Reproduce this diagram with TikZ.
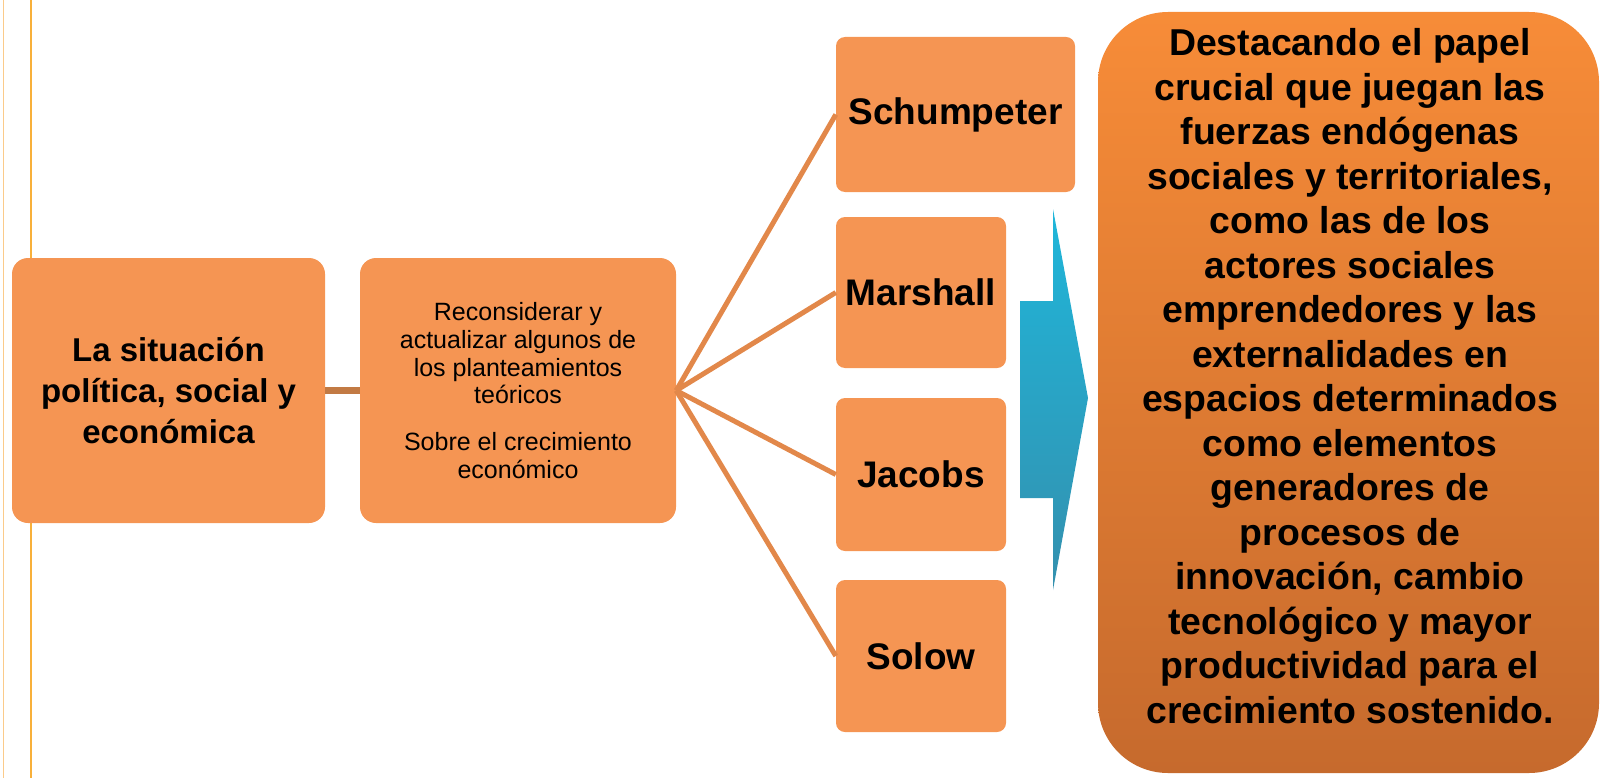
\documentclass[tikz,border=0pt]{standalone}
\usepackage{fontspec}
\setmainfont{Liberation Sans}
\definecolor{boxfill}{HTML}{F59553}
\definecolor{bigtop}{HTML}{F78C38}
\definecolor{bigbot}{HTML}{C66A2D}
\definecolor{fanline}{HTML}{E2884A}
\definecolor{linkline}{HTML}{C27A44}
\definecolor{goldline}{HTML}{F8B03A}
\definecolor{paleline}{HTML}{FBCB8A}
\definecolor{arrowtop}{HTML}{1FB6DA}
\definecolor{arrowbot}{HTML}{3490AE}
\tikzset{
  obox/.style={fill=boxfill, draw=none, rounded corners=#1, inner sep=0pt, align=center},
  obox/.default=16pt,
  namebox/.style={obox=9pt, font=\bfseries\fontsize{37}{44}\selectfont},
  fanstyle/.style={draw=fanline, line width=5pt},
  linkstyle/.style={draw=linkline, line width=6.5pt},
}
\begin{document}
\begin{tikzpicture}[x=1pt,y=-1pt]
\useasboundingbox (0,0) rectangle (1602,778);
% side lines
\draw[paleline, line width=1.5pt] (3.5,0) -- (3.5,778);
\draw[goldline, line width=2pt] (31,0) -- (31,778);
% left boxes
\node[obox, minimum width=313pt, minimum height=265pt,
      font=\bfseries\fontsize{33}{41}\selectfont] (b1) at (168.5,390.5)
  {La situación\\política, social y\\económica};
\node[obox, minimum width=316pt, minimum height=265pt,
      font=\fontsize{25}{27.8}\selectfont] (b2) at (518,390.5)
  {Reconsiderar y\\actualizar algunos de\\los planteamientos\\teóricos\\[19pt]Sobre el crecimiento\\económico};
% name boxes
\node[namebox, minimum width=239pt, minimum height=155pt] (s1) at (955.5,114.5) {Schumpeter};
\node[namebox, minimum width=170pt, minimum height=151pt] (s2) at (921,292.5) {Marshall};
\node[namebox, minimum width=170pt, minimum height=153pt] (s3) at (921,474.5) {Jacobs};
\node[namebox, minimum width=170pt, minimum height=152pt] (s4) at (921,656) {Solow};
% connectors
\draw[linkstyle] (b1.east) -- (b2.west);
\draw[fanstyle] (b2.east) -- (s1.west);
\draw[fanstyle] (b2.east) -- (s2.west);
\draw[fanstyle] (b2.east) -- (s3.west);
\draw[fanstyle] (b2.east) -- (s4.west);
% blue arrow
\coordinate (a1) at (1020,301);
\coordinate (a2) at (1053,301);
\coordinate (a3) at (1053,209);
\coordinate (a4) at (1088,398);
\coordinate (a5) at (1053,590);
\coordinate (a6) at (1053,498);
\coordinate (a7) at (1020,498);
\shade[top color=arrowtop, bottom color=arrowbot]
  (a1) -- (a2) -- (a3) -- (a4) -- (a5) -- (a6) -- (a7) -- cycle;
% big box
\node[top color=bigtop, bottom color=bigbot, rounded corners=70pt,
      minimum width=501pt, minimum height=761pt, inner sep=0pt] (big) at (1348.5,392.5) {};
\node[align=center, inner sep=0pt, font=\bfseries\fontsize{37.4}{44.5}\selectfont] (bigtext) at (1350,376)
  {Destacando el papel\\crucial que juegan las\\fuerzas endógenas\\sociales y territoriales,\\como las de los\\actores sociales\\emprendedores y las\\externalidades en\\espacios determinados\\como elementos\\generadores de\\procesos de\\innovación, cambio\\tecnológico y mayor\\productividad para el\\crecimiento sostenido.};
\end{tikzpicture}
\end{document}
